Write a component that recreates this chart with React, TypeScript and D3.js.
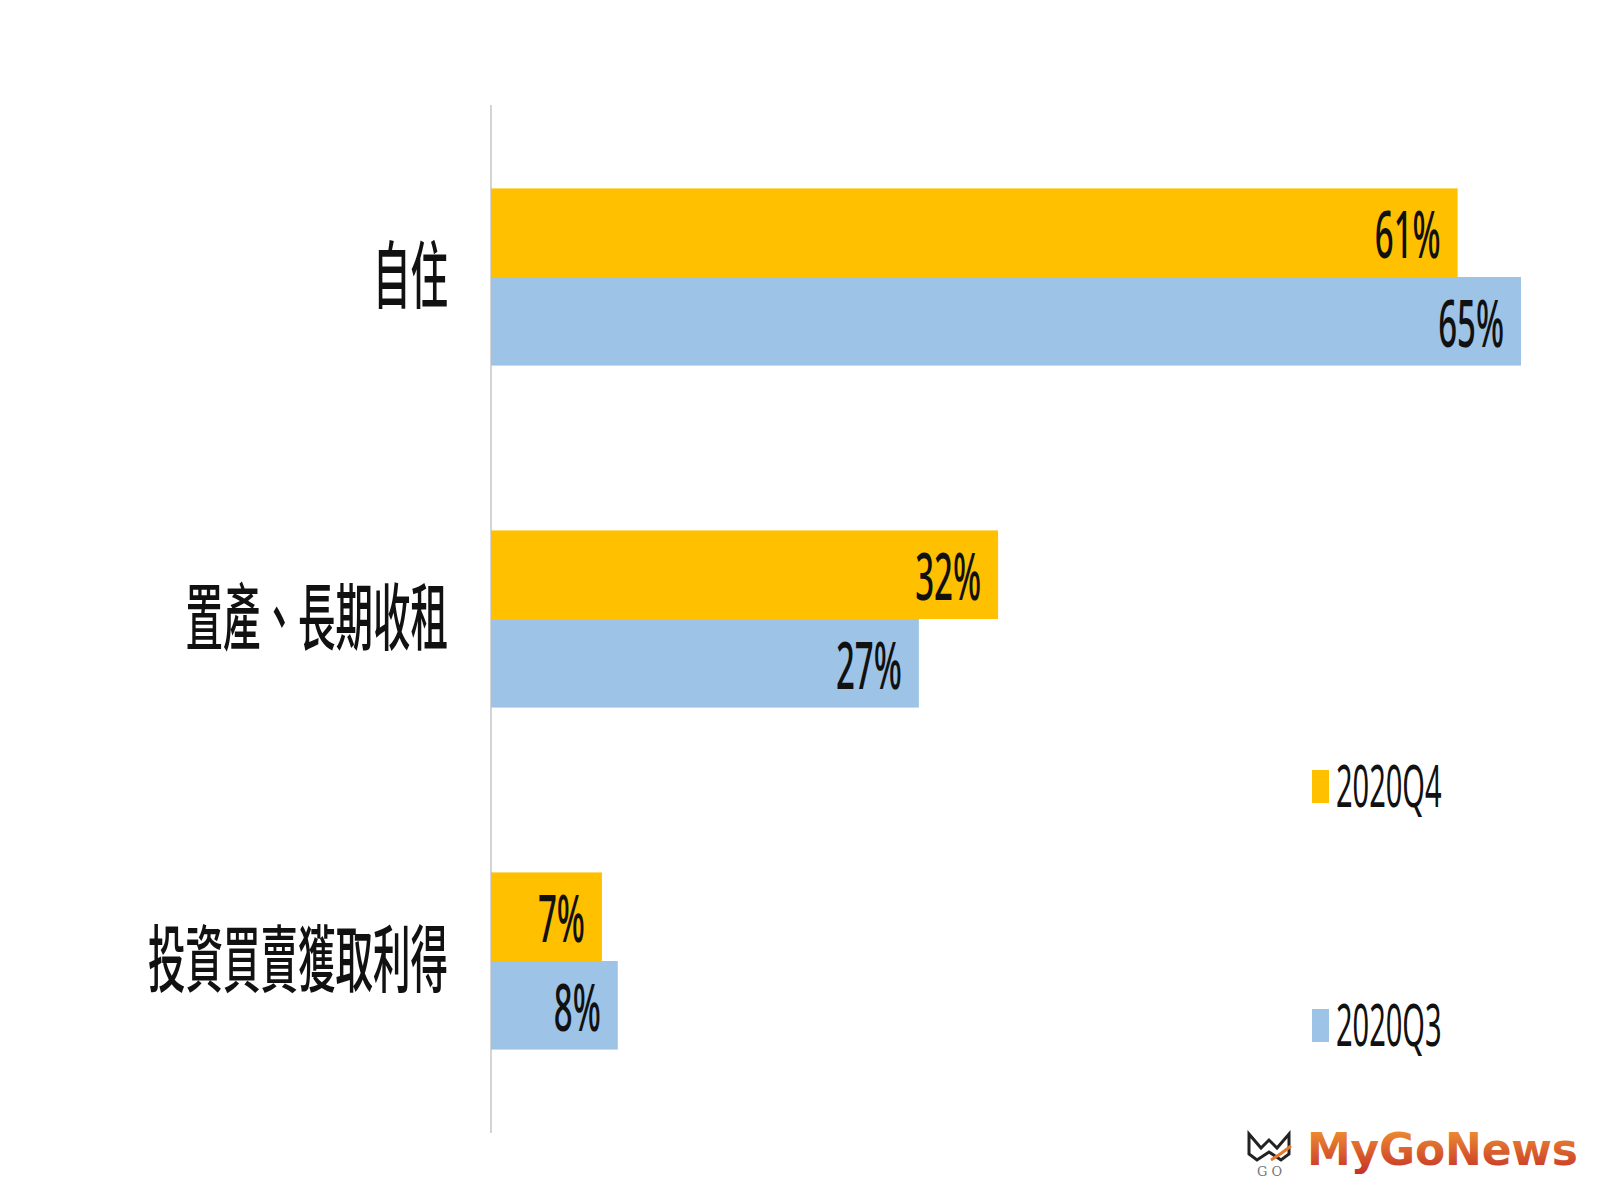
import React, { useEffect, useRef } from 'react';
import * as d3 from 'd3';

// categories (top to bottom)
const categories = ['自住', '置產、長期收租', '投資買賣獲取利得'];
// series
const seriesNames = ['2020Q4', '2020Q3'];
const q4Values = [61, 32, 7];
const q3Values = [65, 27, 8];
const seriesColors = ['#FFC000', '#9DC3E6'];

const W = 1600;
const H = 1200;

const App: React.FC = () => {
  const ref = useRef<SVGSVGElement | null>(null);

  useEffect(() => {
    const svg = d3.select(ref.current);
    svg.selectAll('*').remove();

    const stretch = 2; // the picture is stretched vertically
    const x0 = 491;

    const x = d3.scaleLinear().domain([0, 65]).range([x0, 1521]);
    const y = d3
      .scaleBand<string>()
      .domain(categories)
      .range([106, 1132])
      .paddingInner(0.482)
      .paddingOuter(0.241);
    const ys = d3
      .scaleBand<string>()
      .domain(seriesNames)
      .range([0, y.bandwidth()]);

    const values = [q4Values, q3Values];

    // vertical axis line
    svg
      .append('line')
      .attr('x1', x0)
      .attr('x2', x0)
      .attr('y1', 105)
      .attr('y2', 1133)
      .attr('stroke', '#d4d4d4')
      .attr('stroke-width', 2);

    // bars + value labels
    seriesNames.forEach((s, si) => {
      categories.forEach((c, ci) => {
        const v = values[si][ci];
        const top = (y(c) as number) + (ys(s) as number);
        svg
          .append('rect')
          .attr('x', x(0))
          .attr('y', top)
          .attr('width', x(v) - x(0))
          .attr('height', ys.bandwidth())
          .attr('fill', seriesColors[si]);

        svg
          .append('text')
          .attr('transform', `translate(${x(v) - 17},${top + ys.bandwidth() / 2 + 2}) scale(1,${stretch})`)
          .attr('text-anchor', 'end')
          .attr('dy', '0.36em')
          .attr('font-family', '"Noto Sans", sans-serif')
          .attr('font-weight', 500)
          .attr('font-size', 33)
          .attr('fill', '#111')
          .text(`${v}%`);
      });
    });

    // category labels
    categories.forEach(c => {
      svg
        .append('text')
        .attr('transform', `translate(448,${(y(c) as number) + y.bandwidth() / 2 - 3}) scale(1,1.95)`)
        .attr('text-anchor', 'end')
        .attr('dy', '0.38em')
        .attr('font-family', '"Noto Sans CJK TC", sans-serif')
        .attr('font-weight', 500)
        .attr('font-size', 37.5)
        .attr('fill', '#111')
        .text(c);
    });

    // legend
    const legendY = d3.scalePoint<string>().domain(seriesNames).range([786, 1025]);
    seriesNames.forEach((s, si) => {
      const ly = legendY(s) as number;
      svg
        .append('rect')
        .attr('x', 1312)
        .attr('y', ly - 16)
        .attr('width', 17)
        .attr('height', 33)
        .attr('fill', seriesColors[si]);
      svg
        .append('text')
        .attr('transform', `translate(1336,${ly}) scale(1,${stretch})`)
        .attr('dy', '0.36em')
        .attr('font-family', '"Noto Sans", sans-serif')
        .attr('font-size', 29)
        .attr('fill', '#111')
        .text(s);
    });

    // watermark logo
    const defs = svg.append('defs');
    const grad = defs
      .append('linearGradient')
      .attr('id', 'logoGrad')
      .attr('x1', 0)
      .attr('y1', 0)
      .attr('x2', 0)
      .attr('y2', 1);
    grad.append('stop').attr('offset', '0%').attr('stop-color', '#F39A32');
    grad.append('stop').attr('offset', '100%').attr('stop-color', '#C42E28');

    svg
      .append('text')
      .attr('x', 1307)
      .attr('y', 1165)
      .attr('font-family', '"DejaVu Sans", sans-serif')
      .attr('font-weight', 700)
      .attr('font-size', 44)
      .attr('textLength', 271)
      .attr('fill', 'url(#logoGrad)')
      .text('MyGoNews');

    const icon = svg.append('g').attr('transform', 'translate(1247,1130)');
    icon
      .append('path')
      .attr('d', 'M2,4 L14,18 L22,10 L30,18 L42,4 L42,24 L34,30 L22,22 L10,30 L2,24 Z')
      .attr('fill', 'none')
      .attr('stroke', '#222')
      .attr('stroke-width', 3);
    icon
      .append('path')
      .attr('d', 'M24,30 Q34,24 44,16')
      .attr('fill', 'none')
      .attr('stroke', '#E8782A')
      .attr('stroke-width', 3);
    icon
      .append('text')
      .attr('x', 10)
      .attr('y', 46)
      .attr('font-family', '"DejaVu Serif", serif')
      .attr('font-size', 13)
      .attr('fill', '#777')
      .text('G O');
  }, []);

  return (
    <svg
      ref={ref}
      width={W}
      height={H}
      style={{ display: 'block', position: 'absolute', left: 0, top: 0, background: '#fff' }}
    />
  );
};

export default App;
